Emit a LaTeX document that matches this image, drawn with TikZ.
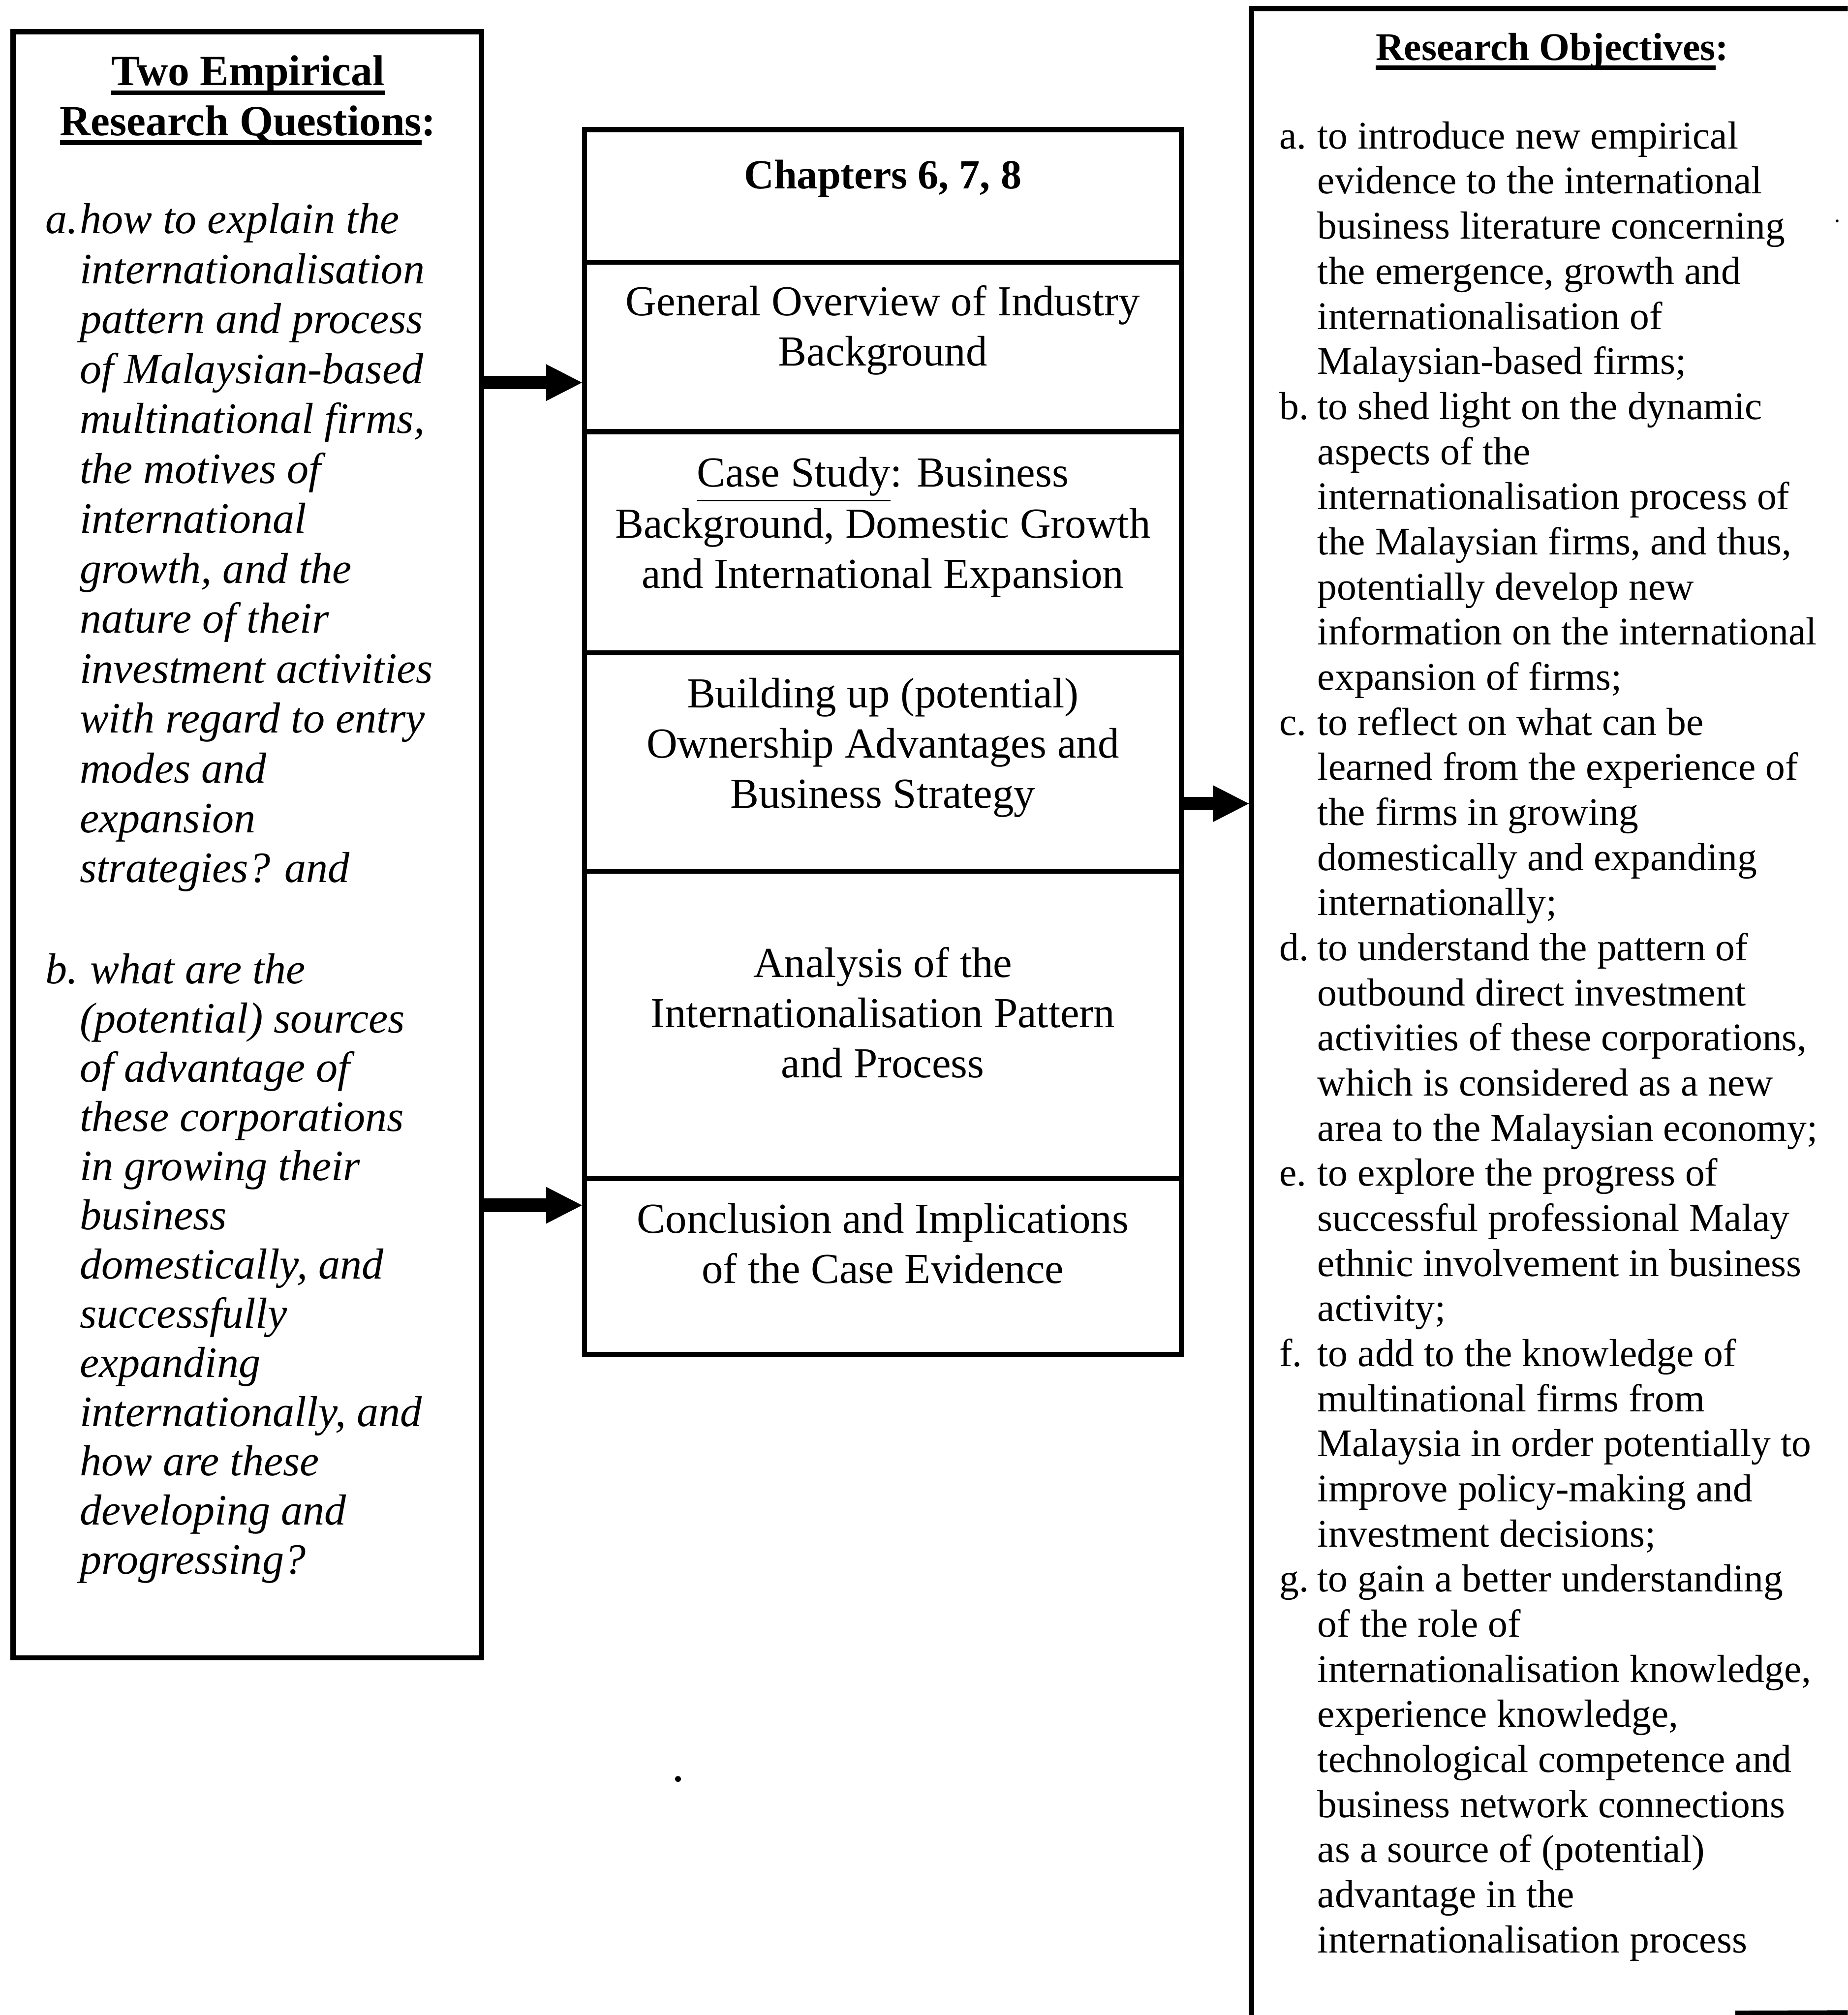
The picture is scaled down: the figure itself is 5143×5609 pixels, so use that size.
\documentclass[tikz,border=0pt]{standalone}
\usepackage{fontspec}
\setmainfont{Liberation Serif}
\usetikzlibrary{arrows.meta,fit}

% thick underline drawn just below the baseline
\newcommand\thickul[1]{\setbox0=\hbox{#1}\rlap{\rule[-2.9pt]{\wd0}{1.4pt}}\box0}
% type sizes of the three columns
\newcommand\qafont{\fontsize{13.3pt}{15.3pt}\selectfont\itshape}
\newcommand\qbfont{\fontsize{13.3pt}{15.08pt}\selectfont\itshape}
\newcommand\midfont{\fontsize{13.1pt}{15.4pt}\selectfont}
\newcommand\objfont{\fontsize{12pt}{13.82pt}\selectfont}

\begin{document}
\begin{tikzpicture}[x=0.11009pt,y=-0.11009pt,
  frame/.style={draw,line width=1.6pt,inner sep=0pt},
  flowarrow/.style={line width=4.1pt,-{Triangle[length=11pt,width=11.3pt,line width=0pt]}},
  txt/.style={inner sep=0pt,outer sep=0pt}]
\useasboundingbox (0,0) rectangle (5143,5609);
\clip (0,0) rectangle (5143,5609);

% ---------- left column: research questions ----------
\node[frame,fit={(36,88) (1340,4615)}] (lq) {};
\node[txt,anchor=base] (lqtitle) at (690,238) {\fontsize{13.2pt}{15.3pt}\selectfont\bfseries
  \begin{tabular}[t]{@{}c@{}}\thickul{Two Empirical}\\ \thickul{Research Questions}:\end{tabular}};
\node[txt,anchor=base west] (qa) at (127,650) {\qafont
  \begin{tabular}[t]{@{}l@{}l@{}}
  \makebox[10.46pt][l]{a.} & how to explain the\\
  & internationalisation\\
  & pattern and process\\
  & of Malaysian-based\\
  & multinational firms,\\
  & the motives of\\
  & international\\
  & growth, and the\\
  & nature of their\\
  & investment activities\\
  & with regard to entry\\
  & modes and\\
  & expansion\\
  & strategies? and
  \end{tabular}};
\node[txt,anchor=base west] (qb) at (127,2738) {\qbfont
  \begin{tabular}[t]{@{}l@{}l@{}}
  \makebox[10.46pt][l]{b.} & \hspace{3.2pt}what are the\\
  & (potential) sources\\
  & of advantage of\\
  & these corporations\\
  & in growing their\\
  & business\\
  & domestically, and\\
  & successfully\\
  & expanding\\
  & internationally, and\\
  & how are these\\
  & developing and\\
  & progressing?
  \end{tabular}};

% ---------- middle column: chapter contents ----------
\node[frame,fit={(1627,361) (3288,730)}] (s0) {};
\node[frame,fit={(1627,730) (3288,1202)}] (s1) {};
\node[frame,fit={(1627,1202) (3288,1817)}] (s2) {};
\node[frame,fit={(1627,1817) (3288,2425)}] (s3) {};
\node[frame,fit={(1627,2425) (3288,3280)}] (s4) {};
\node[frame,fit={(1627,3280) (3288,3770)}] (s5) {};

\node[txt,anchor=base] (t0) at (2457,525) {\fontsize{12.7pt}{15pt}\selectfont\bfseries Chapters 6, 7, 8};
\node[txt,anchor=base] (t1) at (2457,878) {\midfont
  \begin{tabular}[t]{@{}c@{}}General Overview of Industry\\ Background\end{tabular}};
\node[txt,anchor=base] (t2) at (2457,1355) {\midfont
  \begin{tabular}[t]{@{}c@{}}\underline{Case Study}: Business\\ Background, Domestic Growth\\ and International Expansion\end{tabular}};
\node[txt,anchor=base] (t3) at (2457,1970) {\midfont
  \begin{tabular}[t]{@{}c@{}}Building up (potential)\\ Ownership Advantages and\\ Business Strategy\end{tabular}};
\node[txt,anchor=base] (t4) at (2457,2720) {\midfont
  \begin{tabular}[t]{@{}c@{}}Analysis of the\\ Internationalisation Pattern\\ and Process\end{tabular}};
\node[txt,anchor=base] (t5) at (2457,3432) {\midfont
  \begin{tabular}[t]{@{}c@{}}Conclusion and Implications\\ of the Case Evidence\end{tabular}};

% ---------- right column: research objectives ----------
\node[frame,fit={(3483,24) (5400,5800)}] (ro) {};
\node[txt,anchor=base] (rotitle) at (4320,168) {\fontsize{12pt}{14pt}\selectfont\bfseries\thickul{Research Objectives}:};
\node[txt,anchor=base west] (objs) at (3561,414) {\objfont
  \begin{tabular}[t]{@{}l@{}l@{}}
  \makebox[11.67pt][l]{a.} & to introduce new empirical\\
  & evidence to the international\\
  & business literature concerning\\
  & the emergence, growth and\\
  & internationalisation of\\
  & Malaysian-based firms;\\
  \makebox[11.67pt][l]{b.} & to shed light on the dynamic\\
  & aspects of the\\
  & internationalisation process of\\
  & the Malaysian firms, and thus,\\
  & potentially develop new\\
  & information on the international\\
  & expansion of firms;\\
  \makebox[11.67pt][l]{c.} & to reflect on what can be\\
  & learned from the experience of\\
  & the firms in growing\\
  & domestically and expanding\\
  & internationally;\\
  \makebox[11.67pt][l]{d.} & to understand the pattern of\\
  & outbound direct investment\\
  & activities of these corporations,\\
  & which is considered as a new\\
  & area to the Malaysian economy;\\
  \makebox[11.67pt][l]{e.} & to explore the progress of\\
  & successful professional Malay\\
  & ethnic involvement in business\\
  & activity;\\
  \makebox[11.67pt][l]{f.} & to add to the knowledge of\\
  & multinational firms from\\
  & Malaysia in order potentially to\\
  & improve policy-making and\\
  & investment decisions;\\
  \makebox[11.67pt][l]{g.} & to gain a better understanding\\
  & of the role of\\
  & internationalisation knowledge,\\
  & experience knowledge,\\
  & technological competence and\\
  & business network connections\\
  & as a source of (potential)\\
  & advantage in the\\
  & internationalisation process
  \end{tabular}};

% ---------- connectors ----------
\coordinate (y1) at (0,1065);
\coordinate (y2) at (0,3355);
\coordinate (y3) at (0,2237);
\draw[flowarrow] (lq.east |- y1) -- (s1.west |- y1);
\draw[flowarrow] (lq.east |- y2) -- (s5.west |- y2);
\draw[flowarrow] (s3.east |- y3) -- (ro.west |- y3);

% edge of the next frame and stray specks
\draw[line width=1.6pt] (4830,5604) -- (5143,5603);
\fill (1887,4952) circle (0.9pt);
\fill (5113,615) circle (0.45pt);
\end{tikzpicture}
\end{document}
